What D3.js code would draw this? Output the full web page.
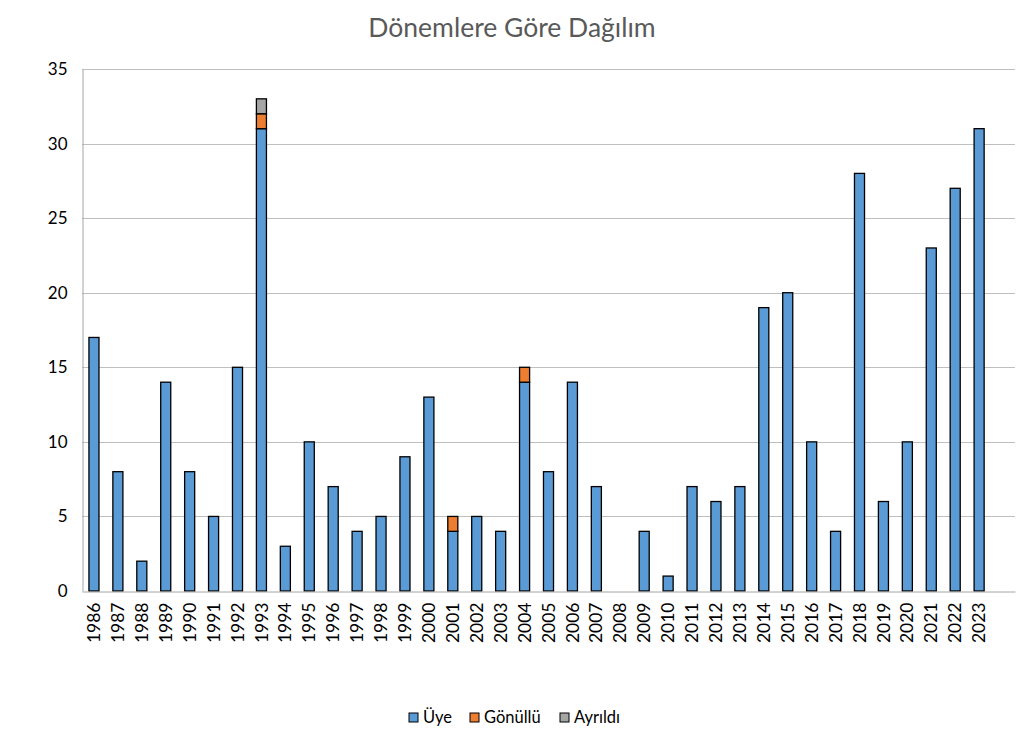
<!DOCTYPE html>
<html>
<head>
<meta charset="utf-8">
<script src="https://cdnjs.cloudflare.com/ajax/libs/d3/7.8.5/d3.min.js"></script>
<style>
  body { margin: 0; background: #fff; }
  text { font-family: Lato, "Open Sans", sans-serif; }
</style>
</head>
<body>
<script>
const width = 1026;
const height = 730;

// data
const years = ["1986","1987","1988","1989","1990","1991","1992","1993","1994","1995",
  "1996","1997","1998","1999","2000","2001","2002","2003","2004","2005","2006","2007",
  "2008","2009","2010","2011","2012","2013","2014","2015","2016","2017","2018","2019",
  "2020","2021","2022","2023"];
const uye = [17,8,2,14,8,5,15,31,3,10,7,4,5,9,13,4,5,4,14,8,14,7,0,4,1,7,6,7,19,20,10,4,28,6,10,23,27,31];
const gonullu = [0,0,0,0,0,0,0,1,0,0,0,0,0,0,0,1,0,0,1,0,0,0,0,0,0,0,0,0,0,0,0,0,0,0,0,0,0,0];
const ayrildi = [0,0,0,0,0,0,0,1,0,0,0,0,0,0,0,0,0,0,0,0,0,0,0,0,0,0,0,0,0,0,0,0,0,0,0,0,0,0];
const seriesNames = ["Üye", "Gönüllü", "Ayrıldı"];
const seriesColors = ["#5B9BD5", "#ED7D31", "#A5A5A5"];
const yTicks = [0,5,10,15,20,25,30,35];

const rows = years.map((y, i) => ({year: y, "Üye": uye[i], "Gönüllü": gonullu[i], "Ayrıldı": ayrildi[i]}));
const stacked = d3.stack().keys(seriesNames)(rows);

const margin = {top: 69, right: 11, bottom: 139, left: 82};

const svg = d3.select("body")
  .append("svg")
  .attr("width", width)
  .attr("height", height);

// the source chart keeps one empty slot after the last year
const x = d3.scaleBand()
  .domain(years.concat(["_blank"]))
  .range([margin.left, width - margin.right])
  .paddingInner(0.58)
  .paddingOuter(0.29);

const y = d3.scaleLinear()
  .domain([0, 35])
  .range([height - margin.bottom, margin.top]);

// title
svg.append("text")
  .attr("x", 512)
  .attr("y", 37)
  .attr("text-anchor", "middle")
  .style("font-size", "26.5px")
  .style("fill", "#595959")
  .text("Dönemlere Göre Dağılım");

// gridlines
svg.append("g")
  .selectAll("line")
  .data(yTicks.filter(d => d > 0))
  .enter().append("line")
  .attr("x1", margin.left)
  .attr("x2", width - margin.right)
  .attr("y1", d => Math.round(y(d)) + 0.5)
  .attr("y2", d => Math.round(y(d)) + 0.5)
  .style("stroke", "#BFBFBF")
  .style("stroke-width", 1);

// y axis
const yAxis = svg.append("g")
  .attr("transform", `translate(${margin.left + 0.5},0)`)
  .call(d3.axisLeft(y).tickValues(yTicks).tickSize(0).tickPadding(15));
yAxis.select(".domain").style("stroke", "#A6A6A6");
yAxis.selectAll("text")
  .style("font-size", "17px")
  .style("fill", "#000")
  .style("font-family", "Lato, sans-serif");

// bars
svg.append("g")
  .selectAll("g")
  .data(stacked)
  .enter().append("g")
  .style("fill", (d, i) => seriesColors[i])
  .selectAll("rect")
  .data(d => d.filter(s => s[1] - s[0] > 0))
  .enter().append("rect")
  .attr("x", d => x(d.data.year))
  .attr("y", d => y(d[1]))
  .attr("width", x.bandwidth())
  .attr("height", d => y(d[0]) - y(d[1]))
  .style("stroke", "#000")
  .style("stroke-width", 1.3);

// x axis
const xAxis = svg.append("g")
  .attr("transform", `translate(0,${Math.round(y(0)) + 0.5})`)
  .call(d3.axisBottom(x).tickSize(0).tickPadding(0)
    .tickFormat(d => d === "_blank" ? "" : d));
xAxis.select(".domain").style("stroke", "#A6A6A6");
xAxis.selectAll("text")
  .attr("transform", "rotate(-90)")
  .attr("text-anchor", "end")
  .attr("x", -11)
  .attr("y", 0)
  .attr("dy", "0.35em")
  .style("font-size", "17.5px")
  .style("fill", "#000")
  .style("font-family", "Lato, sans-serif");

// legend
const legendX = [409, 470, 560];
const legend = svg.append("g")
  .selectAll("g")
  .data(seriesNames)
  .enter().append("g")
  .attr("transform", (d, i) => `translate(${legendX[i]},713)`);
legend.append("rect")
  .attr("width", 9)
  .attr("height", 9)
  .style("fill", (d, i) => seriesColors[i])
  .style("stroke", "#000")
  .style("stroke-width", 1);
legend.append("text")
  .attr("x", 14)
  .attr("y", 10)
  .style("font-size", "16.5px")
  .style("fill", "#000")
  .text(d => d);
</script>
</body>
</html>
